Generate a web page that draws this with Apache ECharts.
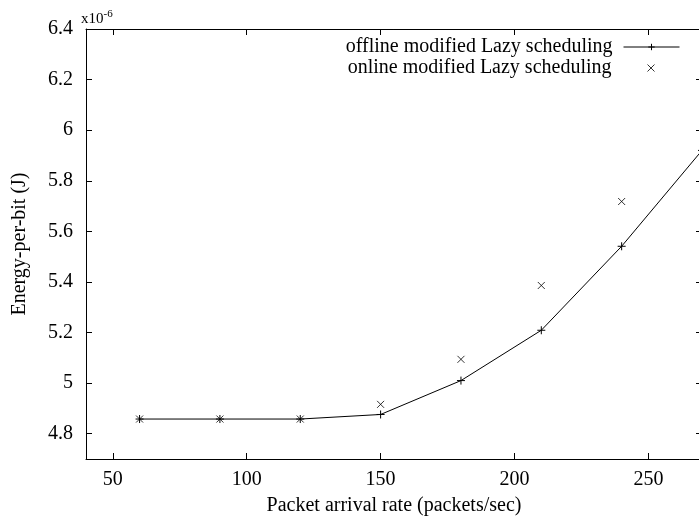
<!DOCTYPE html>
<html><head><meta charset="utf-8">
<script src="https://cdn.jsdelivr.net/npm/echarts@6/dist/echarts.min.js"></script>
<style>html,body{margin:0;padding:0;overflow:hidden;background:#fff;width:699px;height:527px}#c{width:702px;height:527px}</style>
</head><body><div id="c"></div>
<script>
const rates = [60, 90, 120, 150, 180, 210, 240, 270];
const offlineVals = [4.858, 4.858, 4.858, 4.876, 5.010, 5.209, 5.541, 5.92];
const onlineRates = [60, 90, 120, 150, 180, 210, 240];
const onlineVals = [4.858, 4.858, 4.858, 4.916, 5.094, 5.386, 5.718];
const xTicks = [50, 100, 150, 200, 250];
const yTicks = [4.8, 5.0, 5.2, 5.4, 5.6, 5.8, 6.0, 6.2, 6.4];
const seriesNames = ['offline modified Lazy scheduling', 'online modified Lazy scheduling'];

const FONT = "'Liberation Serif','DejaVu Serif',serif";
const FS = 20;
const plusSym = 'path://M0,5L10,5M5,0L5,10';
const crossSym = 'path://M0,0L10,10M10,0L0,10';
const chart = echarts.init(document.getElementById('c'), null, {renderer: 'canvas'});
const xBase = {
  type: 'value', min: 40, max: 270,
  axisLine: {show: true, lineStyle: {color: '#000', width: 1}},
  axisTick: {show: true, inside: true, length: 6, customValues: xTicks, lineStyle: {color: '#000'}},
  splitLine: {show: false}
};
const yBase = {
  type: 'value', min: 4.7, max: 6.4,
  axisLine: {show: true, lineStyle: {color: '#000', width: 1}},
  axisTick: {show: true, inside: true, length: 6, customValues: yTicks, lineStyle: {color: '#000'}},
  splitLine: {show: false}
};
const legendItem = {color: 'none', borderColor: '#000', borderWidth: 1};
chart.setOption({
  animation: false,
  textStyle: {fontFamily: FONT, color: '#000'},
  grid: {left: 86, right: 0, top: 29, bottom: 68, containLabel: false},
  xAxis: [
    Object.assign({}, xBase, {
      position: 'bottom',
      name: 'Packet arrival rate (packets/sec)', nameLocation: 'middle', nameGap: 37,
      nameTextStyle: {fontFamily: FONT, fontSize: FS, color: '#000'},
      axisLabel: {show: true, customValues: xTicks, margin: 11, fontFamily: FONT, fontSize: FS, color: '#000'}
    }),
    Object.assign({}, xBase, {position: 'top', axisLabel: {show: false}})
  ],
  yAxis: [
    Object.assign({}, yBase, {
      position: 'left',
      name: 'Energy-per-bit (J)', nameLocation: 'middle', nameGap: 56,
      nameTextStyle: {fontFamily: FONT, fontSize: FS, color: '#000'},
      axisLabel: {show: true, customValues: yTicks, margin: 13, fontFamily: FONT, fontSize: FS, color: '#000',
        formatter: v => String(parseFloat(v.toFixed(2)))}
    }),
    Object.assign({}, yBase, {position: 'right', axisLabel: {show: false}})
  ],
  legend: [
    {
      data: [seriesNames[0]], right: 17, top: 32, orient: 'vertical', align: 'right',
      itemWidth: 56, itemHeight: 8,
      itemStyle: legendItem, lineStyle: {color: '#000', width: 1},
      textStyle: {fontFamily: FONT, fontSize: FS, color: '#000', padding: [0, 6, 0, 0]}
    },
    {
      data: [seriesNames[1]], right: 40, top: 53, orient: 'vertical', align: 'right',
      itemWidth: 7, itemHeight: 7,
      itemStyle: legendItem,
      textStyle: {fontFamily: FONT, fontSize: FS, color: '#000', padding: [0, 31, 0, 0]}
    }
  ],
  graphic: [{
    type: 'text', left: 81, top: 9,
    style: {text: 'x10{s|-6}', font: '15px ' + FONT, fill: '#000',
      rich: {s: {fontSize: 11, fontFamily: FONT, verticalAlign: 'top', padding: [0, 0, 9, 0]}}}
  }],
  series: [
    {
      name: seriesNames[0], type: 'line',
      data: rates.map((r, i) => [r, offlineVals[i]]),
      symbol: plusSym, symbolSize: 8, symbolKeepAspect: true, showAllSymbol: true,
      lineStyle: {color: '#000', width: 1},
      itemStyle: {color: 'none', borderColor: '#000', borderWidth: 1},
      clip: true
    },
    {
      name: seriesNames[1], type: 'scatter',
      data: onlineRates.map((r, i) => [r, onlineVals[i]]),
      symbol: crossSym, symbolSize: 7, symbolKeepAspect: true,
      itemStyle: {color: 'none', borderColor: '#000', borderWidth: 1}
    }
  ]
});
</script></body></html>
